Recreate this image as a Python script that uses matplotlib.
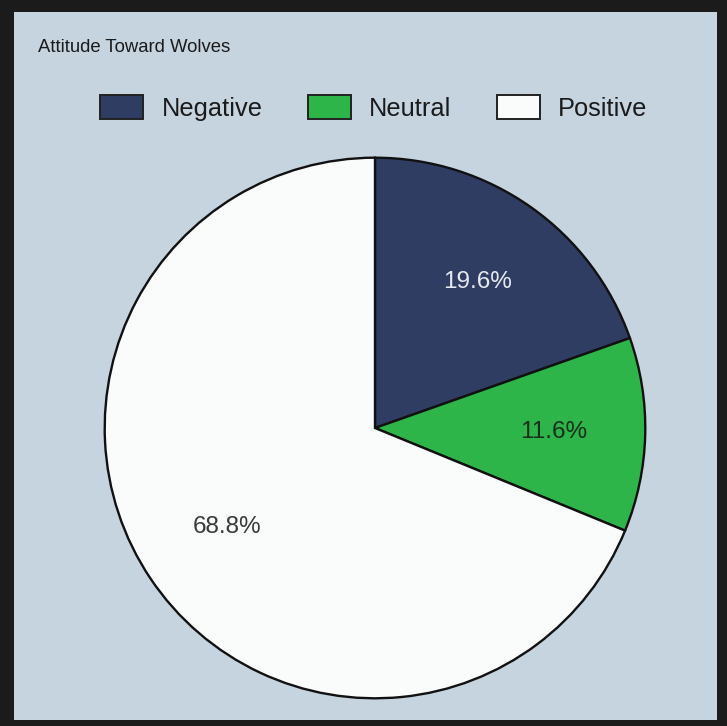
import matplotlib
matplotlib.use("Agg")
import matplotlib.pyplot as plt
from matplotlib.patches import Rectangle, Patch

plt.rcParams['font.family'] = ['Liberation Sans', 'DejaVu Sans']

# Survey results
categories = ["Negative", "Neutral", "Positive"]
shares = [19.6, 11.6, 68.8]
colors = ["#2f3d63", "#2db54a", "#fafbfb"]
label_colors = ["#e6e9f0", "#17301c", "#3a3a3a"]
title = "Attitude Toward Wolves"

W, H = 727, 726
fig = plt.figure(figsize=(W / 100, H / 100), dpi=100, facecolor="#1b1b1b")

# light panel inside the dark frame
fig.patches.append(Rectangle((14 / W, 1 - 720 / H), 703 / W, 708 / H,
                             transform=fig.transFigure, facecolor="#c6d4e0",
                             edgecolor="none", zorder=-5))

cx, cy, r = 375, 428, 273
ax = fig.add_axes([(cx - r) / W, (H - cy - r) / H, 2 * r / W, 2 * r / H])
ax.set_zorder(2)
ax.set_facecolor("none")
wedges, texts, autotexts = ax.pie(
    shares, colors=colors, startangle=90, counterclock=False,
    autopct=lambda p: f"{p:.1f}%", pctdistance=0.66,
    wedgeprops=dict(edgecolor="#111111", linewidth=1.7),
    textprops=dict(fontsize=17.5),
)
for t, c in zip(autotexts, label_colors):
    t.set_color(c)
ax.set_xlim(-1.01, 1.01)
ax.set_ylim(-1.01, 1.01)
ax.set_aspect("equal")
ax.axis("off")

fig.text(38 / W, 1 - 47 / H, title, fontsize=13.3, color="#1a1a1a",
         ha="left", va="center")

handles = [Patch(facecolor=c, edgecolor="#222222", linewidth=1.4) for c in colors]
fig.legend(handles, categories, loc="center", bbox_to_anchor=(374 / W, 1 - 108 / H),
           ncol=3, frameon=False, fontsize=18.3, handlelength=1.68, handleheight=1.08,
           handletextpad=0.72, columnspacing=1.8, labelcolor="#1a1a1a")

fig.savefig("out.png", dpi=100, facecolor=fig.get_facecolor())
